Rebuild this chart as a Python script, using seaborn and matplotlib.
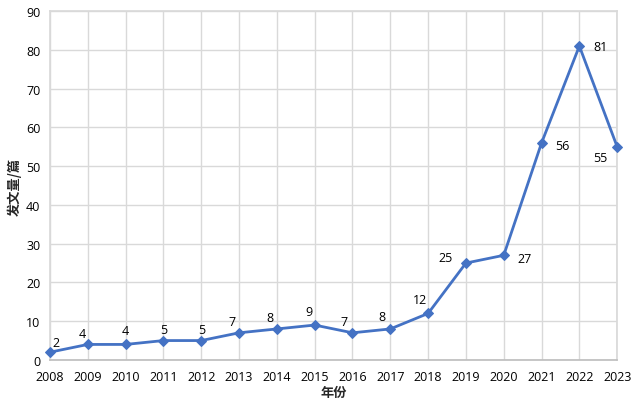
import matplotlib
matplotlib.use("Agg")
import matplotlib.pyplot as plt
import seaborn as sns
import pandas as pd

years = [2008, 2009, 2010, 2011, 2012, 2013, 2014, 2015, 2016, 2017, 2018, 2019, 2020, 2021, 2022, 2023]
counts = [2, 4, 4, 5, 5, 7, 8, 9, 7, 8, 12, 25, 27, 56, 81, 55]
# label offsets (points) per point
offsets = [(4, 7), (-4, 8), (0, 10), (0, 8), (0, 8), (-5, 8), (-5, 8), (-4, 10), (-6, 8), (-6, 9),
           (-6, 10), (-15, 4), (15, -2), (15, -2), (15, 0), (-12, -8)]

sns.set_theme(style="whitegrid")
plt.rcParams['font.family'] = ['Open Sans', 'Noto Sans CJK SC', 'DejaVu Sans']

df = pd.DataFrame({"year": years, "count": counts})

fig = plt.figure(figsize=(6.33, 4.06), dpi=100)
ax = fig.add_axes([0.079, 0.111, 0.896, 0.859])

sns.lineplot(data=df, x="year", y="count", ax=ax, color="#4472C4", linewidth=2,
             marker="D", markersize=5.5, markeredgecolor="#4472C4", clip_on=False, zorder=5)

for x, y, (dx, dy) in zip(years, counts, offsets):
    ax.annotate(str(y), (x, y), xytext=(dx, dy), textcoords="offset points",
                ha="center", va="center", fontsize=9, color="black")

ax.set_xlim(2008, 2023)
ax.set_ylim(0, 90)
ax.set_xticks(years)
ax.set_xticklabels([str(y) for y in years])
ax.set_yticks(range(0, 91, 10))
ax.tick_params(axis="both", length=0, labelsize=9, colors="black", pad=7)
ax.grid(True, color="#d9d9d9", linewidth=1)
for s in ["top", "right", "left"]:
    ax.spines[s].set_visible(True)
    ax.spines[s].set_color("#d9d9d9")
ax.spines["bottom"].set_color("#bfbfbf")
ax.set_facecolor("white")

ax.set_xlabel("年份", fontsize=9.5, fontweight="bold", labelpad=2,
              family=['Noto Sans CJK SC', 'DejaVu Sans'])
ax.set_ylabel("发文量/篇", fontsize=9.5, fontweight="bold", labelpad=3,
              family=['Noto Sans CJK SC', 'DejaVu Sans'])

fig.savefig("out.png", dpi=100, facecolor="white")
